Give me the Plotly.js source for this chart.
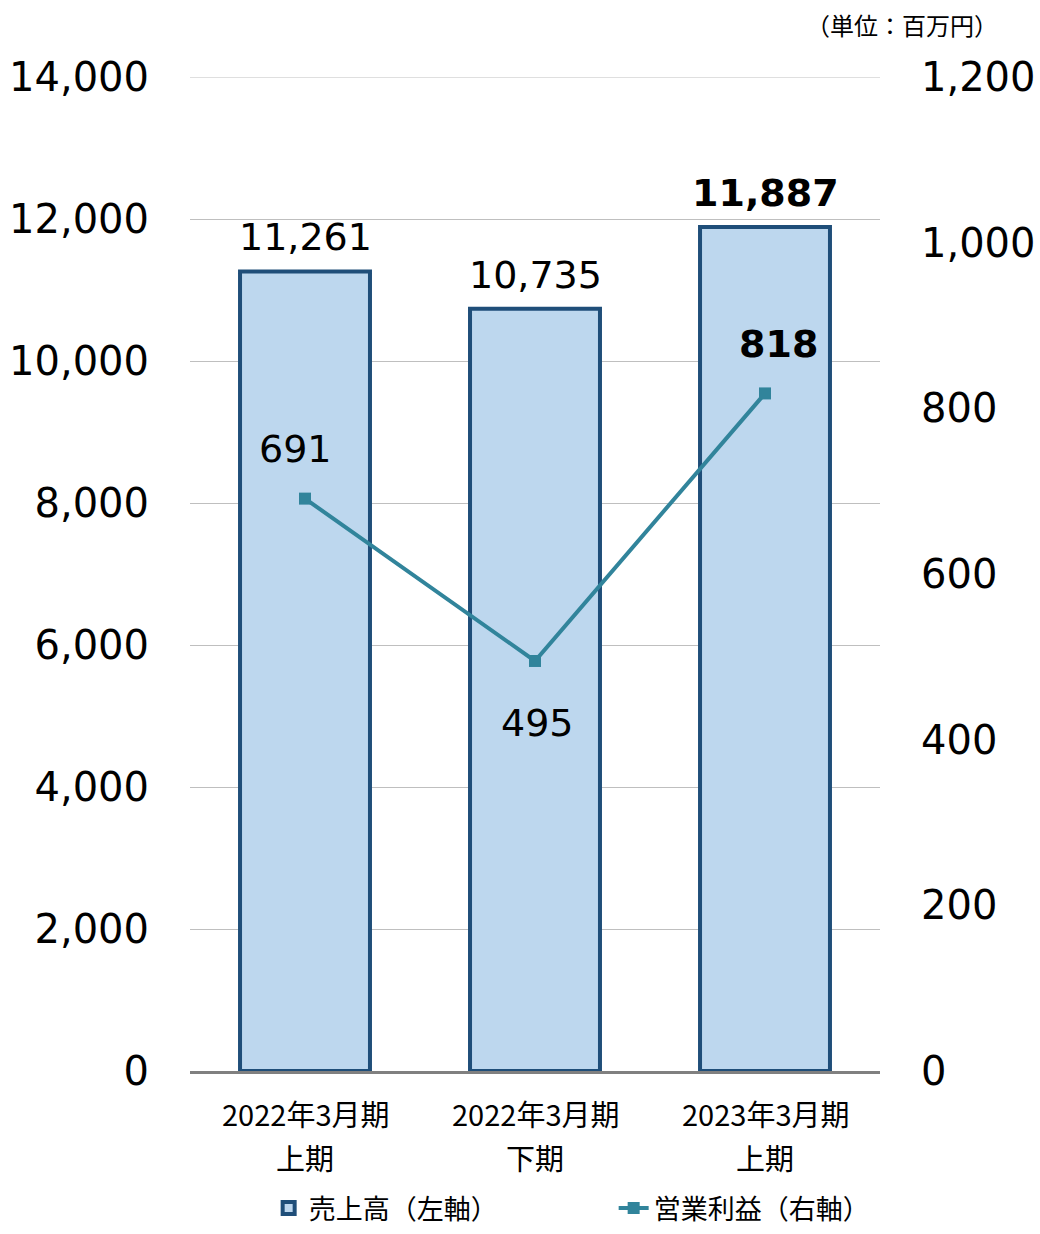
<!DOCTYPE html>
<html>
<head>
<meta charset="utf-8">
<script src="https://cdn.plot.ly/plotly-3.0.1.min.js"></script>
<style>html,body{margin:0;padding:0;background:#fff;}#chart{width:1040px;height:1234px;}</style>
</head>
<body>
<div id="chart"></div>
<script>
const categories = ["c1", "c2", "c3"];
const catLine1 = ["2022年3月期", "2022年3月期", "2023年3月期"];
const catLine2 = ["上期", "下期", "上期"];
const sales = [11261, 10735, 11887];
const profit = [691, 495, 818];
const salesName = "売上高（左軸）";
const profitName = "営業利益（右軸）";
const unitLabel = "（単位：百万円）";
const leftTicks = [0, 2000, 4000, 6000, 8000, 10000, 12000, 14000];
const rightTicks = [0, 200, 400, 600, 800, 1000, 1200];
const boldIdx = 2;

const NUM_FONT = "DejaVu Sans, Verdana, sans-serif";
const JP_FONT = "Noto Sans CJK JP, Noto Sans, sans-serif";
const fmt = v => v.toLocaleString("en-US");

const traces = [
  {
    type: "bar", name: salesName, x: categories, y: sales, yaxis: "y",
    width: 0.565,
    marker: {color: "#BDD7EE", line: {color: "#1F4E79", width: 4}},
    hoverinfo: "skip"
  },
  {
    type: "scatter", mode: "lines+markers", name: profitName, x: categories, y: profit, yaxis: "y2",
    line: {color: "#31849B", width: 4},
    marker: {symbol: "square", size: 12, color: "#31849B"},
    hoverinfo: "skip"
  }
];

const annotations = [];
sales.forEach((v, i) => {
  annotations.push({
    x: categories[i], y: v, xref: "x", yref: "y", yanchor: "bottom", yshift: 10,
    text: i === boldIdx ? "<b>" + fmt(v) + "</b>" : fmt(v), showarrow: false,
    font: {family: NUM_FONT, size: 38, color: "#000"}
  });
});
const profitOffsets = [[-10, 50], [2, -62], [13, 49]];
profit.forEach((v, i) => {
  annotations.push({
    x: categories[i], y: v, xref: "x", yref: "y2", yanchor: "middle",
    xshift: profitOffsets[i][0], yshift: profitOffsets[i][1],
    text: i === boldIdx ? "<b>" + fmt(v) + "</b>" : fmt(v), showarrow: false,
    font: {family: NUM_FONT, size: 38, color: "#000"}
  });
});
categories.forEach((c, i) => {
  annotations.push({x: c, xref: "x", yref: "paper", y: -0.0423, yanchor: "middle", text: catLine1[i], showarrow: false,
    font: {family: JP_FONT, size: 29, color: "#000"}});
  annotations.push({x: c, xref: "x", yref: "paper", y: -0.0865, yanchor: "middle", text: catLine2[i], showarrow: false,
    font: {family: JP_FONT, size: 29, color: "#000"}});
});
annotations.push({x: 1.174, y: 1.053, xref: "paper", yref: "paper", xanchor: "right", yanchor: "middle",
  text: unitLabel, showarrow: false, font: {family: JP_FONT, size: 24, color: "#000"}});

const layout = {
  width: 1040, height: 1234,
  margin: {l: 190, r: 160, t: 77, b: 163, pad: 0, autoexpand: false},
  paper_bgcolor: "#fff", plot_bgcolor: "#fff",
  showlegend: true,
  legend: {orientation: "h", x: 0.114, xanchor: "left", y: -0.163, yanchor: "bottom",
    font: {family: JP_FONT, size: 27, color: "#000"}, entrywidth: 300, traceorder: "normal"},
  xaxis: {type: "category", showticklabels: false, ticks: "", showgrid: false,
    showline: true, linecolor: "#808080", linewidth: 3, zeroline: false, fixedrange: true},
  yaxis: {range: [0, 14000], tickvals: leftTicks, ticktext: leftTicks.map(fmt), showgrid: true,
    gridcolor: "#BFBFBF", gridwidth: 1, zeroline: false, showline: false, ticks: "", ticklabelstandoff: 40,
    tickfont: {family: NUM_FONT, size: 40, color: "#000"}, fixedrange: true},
  yaxis2: {range: [0, 1200], tickvals: rightTicks, ticktext: rightTicks.map(fmt), overlaying: "y", side: "right",
    showgrid: false, zeroline: false, showline: false, ticks: "", ticklabelstandoff: 40,
    tickfont: {family: NUM_FONT, size: 40, color: "#000"}, fixedrange: true},
  shapes: [{type: "line", xref: "paper", yref: "y", x0: 0, x1: 1, y0: leftTicks[leftTicks.length - 1], y1: leftTicks[leftTicks.length - 1],
    line: {color: "#BFBFBF", width: 1}, layer: "below"}],
  annotations: annotations
};

Plotly.newPlot("chart", traces, layout, {staticPlot: true, displayModeBar: false});
</script>
</body>
</html>
